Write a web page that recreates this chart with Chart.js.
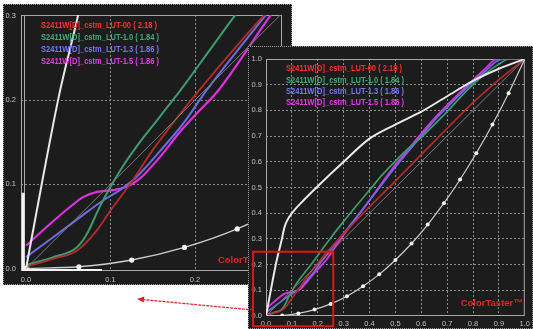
<!DOCTYPE html>
<html>
<head>
<meta charset="utf-8">
<script src="https://cdn.jsdelivr.net/npm/chart.js@4.4.1/dist/chart.umd.min.js"></script>
<style>
  html, body { margin: 0; padding: 0; background: #ffffff; }
  body { width: 533px; height: 329px; position: relative; overflow: hidden; }
  canvas { position: absolute; background: #1c1c1c; outline: 1px dotted #9c9c9c; outline-offset: -1px; }
  #zoomChart { left: 3px; top: 4px; }
  #fullChart { left: 248px; top: 46px; }
  #pointer { position: absolute; left: 0; top: 0; }
</style>
</head>
<body>
<canvas id="zoomChart" width="289" height="281"></canvas>
<canvas id="fullChart" width="285" height="283"></canvas>
<svg id="pointer" width="533" height="329">
  <line x1="253" y1="310" x2="143" y2="299.6" stroke="#e02020" stroke-width="1.2" stroke-dasharray="3 1"/>
  <polygon points="137,299 144.3,296.4 143.7,302.6" fill="#e02020"/>
</svg>
<script>
// Tone response curves, [input, output] pairs on a 0..1 scale
const lut00 = [[0,0.002],[0.032,0.0115],[0.06,0.021],[0.0836,0.045],[0.1,0.069],[0.123,0.1],[0.151,0.142],[0.178,0.178],[0.206,0.213],[0.281,0.30],[0.4,0.425],[0.5,0.525],[0.6,0.628],[0.7,0.73],[0.8,0.83],[0.9,0.92],[1,1]];
const lut10 = [[0,0.004],[0.032,0.0135],[0.06,0.025],[0.072,0.041],[0.0876,0.074],[0.1,0.097],[0.115,0.122],[0.131,0.145],[0.159,0.181],[0.186,0.216],[0.215,0.256],[0.247,0.30],[0.3,0.368],[0.35,0.43],[0.4,0.49],[0.45,0.55],[0.5,0.603],[0.55,0.652],[0.6,0.695],[0.65,0.745],[0.7,0.795],[0.75,0.85],[0.8,0.9],[0.85,0.945],[0.9,0.98],[0.94,1.0],[1,1]];
const lut13 = [[0,0.0135],[0.032,0.037],[0.064,0.061],[0.0915,0.081],[0.111,0.093],[0.131,0.109],[0.159,0.14],[0.186,0.172],[0.214,0.212],[0.283,0.30],[0.35,0.385],[0.4,0.45],[0.45,0.515],[0.5,0.58],[0.55,0.64],[0.6,0.70],[0.65,0.76],[0.7,0.812],[0.75,0.862],[0.8,0.91],[0.85,0.955],[0.89,0.99],[0.92,1.0],[1,1]];
const lut15 = [[0,0.027],[0.024,0.049],[0.052,0.073],[0.068,0.085],[0.084,0.091],[0.103,0.093],[0.119,0.097],[0.135,0.107],[0.159,0.133],[0.182,0.162],[0.202,0.184],[0.228,0.212],[0.289,0.30],[0.35,0.382],[0.4,0.45],[0.45,0.52],[0.5,0.588],[0.55,0.648],[0.6,0.71],[0.65,0.768],[0.7,0.82],[0.75,0.87],[0.8,0.918],[0.85,0.965],[0.88,0.995],[0.9,1.0],[1,1]];
const referenceLinear = [[0,0],[1,1]];
const upperCurve = [[0,0],[0.02,0.108],[0.04,0.21],[0.0615,0.30],[0.07,0.34],[0.08,0.368],[0.1,0.40],[0.15,0.455],[0.2,0.505],[0.3,0.60],[0.4,0.69],[0.5,0.745],[0.6,0.795],[0.7,0.855],[0.8,0.915],[0.9,0.962],[1,1]];
const gammaTarget = [[0,0],[0.0625,0.002],[0.125,0.010],[0.1875,0.025],[0.25,0.047],[0.3125,0.077],[0.375,0.116],[0.4375,0.162],[0.5,0.218],[0.5625,0.282],[0.625,0.356],[0.6875,0.439],[0.75,0.531],[0.8125,0.633],[0.875,0.745],[0.9375,0.867],[1,1]];
// magnified axis corner seen in the close-up view
const axisCorner = [[-0.0035,0.09],[-0.0035,-0.0024],[0.09,-0.0024]];

const seriesLabels = [
  'S2411W[D]_cstm_LUT-00 ( 2.18 )',
  'S2411W[D]_cstm_LUT-1.0 ( 1.84 )',
  'S2411W[D]_cstm_LUT-1.3 ( 1.86 )',
  'S2411W[D]_cstm_LUT-1.5 ( 1.86 )'
];
const legendColors = ['#ff2e2e', '#3fae78', '#7676ff', '#e63ae6'];
const lineColors = ['#b82a2a', '#3d9c6c', '#6b6be6', '#dd2fdd'];
const fullTicks = [0, 0.1, 0.2, 0.3, 0.4, 0.5, 0.6, 0.7, 0.8, 0.9, 1.0];
const zoomTicks = [0, 0.1, 0.2, 0.3];
const zoomBoxX = [-0.05, 0.26];
const zoomBoxY = [-0.04, 0.25];
const brandText = 'ColorTaster\u2122';

const toXY = arr => arr.map(([x, y]) => ({ x, y }));
const FONT = '"Liberation Sans", Arial, sans-serif';

const panelDecor = {
  id: 'panelDecor',
  beforeDatasetsDraw(chart, args, opts) {
    const { ctx, chartArea: a } = chart;
    ctx.save();
    ctx.strokeStyle = '#a8a8a8';
    ctx.lineWidth = 1;
    ctx.strokeRect(a.left + 0.5, a.top + 0.5, a.right - a.left - 1, a.bottom - a.top - 1);
    if (opts.innerEdge) {
      ctx.beginPath();
      ctx.moveTo(a.left + 3.5, a.top);
      ctx.lineTo(a.left + 3.5, a.bottom);
      ctx.stroke();
    }
    ctx.restore();
  },
  afterDatasetsDraw(chart, args, opts) {
    const { ctx, chartArea: a } = chart;
    ctx.save();
    // series legend
    ctx.font = 'bold 9px ' + FONT;
    ctx.textBaseline = 'middle';
    ctx.textAlign = 'left';
    const squeeze = 116 / ctx.measureText(seriesLabels[0]).width;
    seriesLabels.forEach((t, i) => {
      ctx.save();
      ctx.translate(a.left + 20, a.top + opts.legendTop + i * opts.legendStep);
      ctx.scale(squeeze, 1);
      ctx.fillStyle = legendColors[i];
      ctx.fillText(t, 0, 0);
      ctx.restore();
    });
    // brand mark
    ctx.font = 'bold 9.5px ' + FONT;
    ctx.fillStyle = '#e52424';
    ctx.textAlign = 'right';
    ctx.fillText(brandText, a.right - 2, a.bottom - opts.brandUp);
    // outline of the magnified region
    if (opts.box) {
      const xs = chart.scales.x, ys = chart.scales.y;
      const x0 = xs.getPixelForValue(zoomBoxX[0]), x1 = xs.getPixelForValue(zoomBoxX[1]);
      const y0 = ys.getPixelForValue(zoomBoxY[0]), y1 = ys.getPixelForValue(zoomBoxY[1]);
      ctx.strokeStyle = '#e01515';
      ctx.lineWidth = 2;
      ctx.strokeRect(x0, y1, x1 - x0, y0 - y1);
    }
    ctx.restore();
  }
};

function buildDatasets(zoomed) {
  const curve = (data, color, width) => ({
    data: toXY(data), borderColor: color, borderWidth: width,
    pointRadius: 0, cubicInterpolationMode: 'monotone', fill: false
  });
  const sets = [
    { data: toXY(referenceLinear), borderColor: '#7c7c7c', borderWidth: 1, pointRadius: 0, tension: 0 },
    Object.assign(curve(gammaTarget, '#cdcdcd', zoomed ? 1.4 : 1.2), {
      pointRadius: zoomed ? 2.6 : 2, pointBackgroundColor: '#f2f2f2', pointBorderWidth: 0
    }),
    curve(upperCurve, '#e8e8e8', 2),
    curve(lut00, lineColors[0], zoomed ? 1.8 : 1.6),
    curve(lut10, lineColors[1], zoomed ? 2 : 1.7),
    curve(lut13, lineColors[2], zoomed ? 2 : 1.7),
    curve(lut15, lineColors[3], zoomed ? 2.2 : 1.9)
  ];
  if (zoomed) {
    sets.push({ data: toXY(axisCorner), borderColor: '#f4f4f4', borderWidth: 3, pointRadius: 0, tension: 0 });
  }
  return sets;
}

function makeChart(id, cfg) {
  const gridColor = max => ctx => (ctx.tick && (ctx.tick.value <= 0 || ctx.tick.value >= max - 0.001)) ? 'rgba(0,0,0,0)' : '#8c8c8c';
  const axis = (min, max, ticks, fit, pad) => ({
    type: 'linear', min, max,
    afterBuildTicks: s => { s.ticks = ticks.map(v => ({ value: v })); },
    afterFit: fit,
    ticks: { color: '#c0c0c0', font: { size: 7.5, family: FONT }, padding: pad, callback: v => Number(v).toFixed(1) },
    grid: { color: gridColor(ticks[ticks.length - 1]), drawTicks: false, lineWidth: 1, borderDash: [2, 2] },
    border: { display: false, dash: [2, 2] }
  });
  return new Chart(document.getElementById(id), {
    type: 'line',
    data: { datasets: buildDatasets(cfg.zoomed) },
    options: {
      responsive: false, animation: false, devicePixelRatio: 1,
      layout: { padding: { top: cfg.padTop, right: cfg.padRight, left: 0, bottom: 0 } },
      scales: {
        x: axis(cfg.xMin, cfg.xMax, cfg.ticks, s => { s.height = cfg.xAxisH; }, cfg.xPad),
        y: axis(cfg.yMin, cfg.yMax, cfg.ticks, s => { s.width = cfg.yAxisW; }, cfg.yPad)
      },
      plugins: {
        legend: { display: false },
        tooltip: { enabled: false },
        panelDecor: cfg.decor
      }
    },
    plugins: [panelDecor]
  });
}

// close-up of the dark end
makeChart('zoomChart', {
  zoomed: true, ticks: zoomTicks,
  xMin: -0.006, xMax: 0.303, yMin: -0.003, yMax: 0.301,
  padTop: 11, padRight: 10, xAxisH: 14, yAxisW: 18, xPad: 4, yPad: 5,
  decor: { legendTop: 11, legendStep: 11.7, brandUp: 11, innerEdge: true, box: false }
});

// full range view
makeChart('fullChart', {
  zoomed: false, ticks: fullTicks,
  xMin: 0, xMax: 1, yMin: 0, yMax: 1,
  padTop: 13, padRight: 8, xAxisH: 13, yAxisW: 18, xPad: 3, yPad: 4,
  decor: { legendTop: 10, legendStep: 11.3, brandUp: 13, innerEdge: false, box: true }
});
</script>
</body>
</html>
